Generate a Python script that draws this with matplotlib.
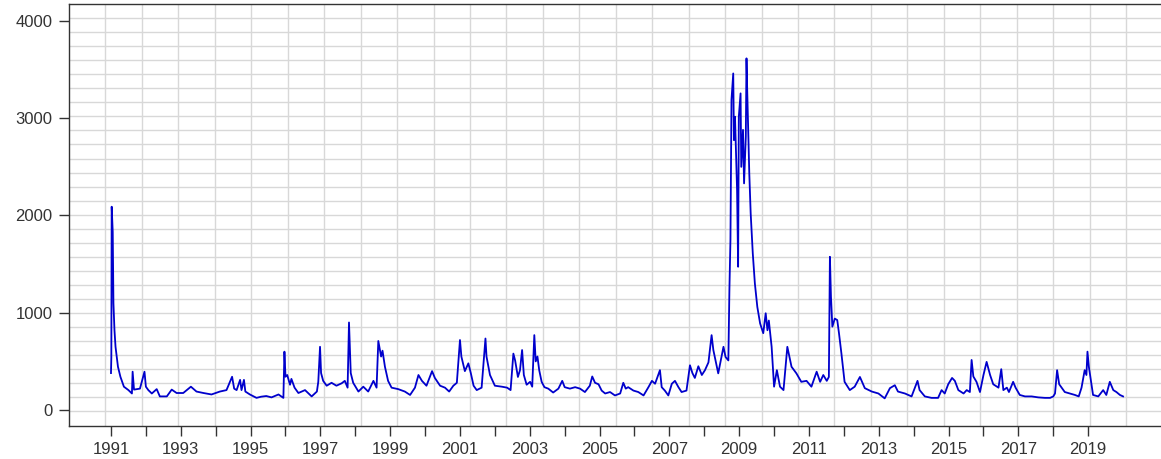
# daily series 1991-2020
# (decimal year, value) -- only the turning points, not every day

import numpy as np
import matplotlib.pyplot as plt

# --- data -------------------------------------------------------------
years = [
    1991.00, 1991.01, 1991.02, 1991.05, 1991.07, 1991.10, 1991.13, 1991.20, 1991.27, 1991.37,
    1991.50, 1991.60, 1991.62, 1991.66, 1991.83, 1991.96, 1992.00, 1992.07, 1992.17, 1992.31,
    1992.40, 1992.60, 1992.74, 1992.88, 1993.07, 1993.29, 1993.45, 1993.65, 1993.88, 1994.12,
    1994.31, 1994.47, 1994.53, 1994.60, 1994.70, 1994.74, 1994.81, 1994.85, 1994.98, 1995.17,
    1995.30, 1995.45, 1995.60, 1995.80, 1995.94, 1995.97, 1996.00, 1996.05, 1996.13, 1996.17,
    1996.26, 1996.37, 1996.56, 1996.75, 1996.90, 1996.94, 1996.99, 1997.02, 1997.08, 1997.18,
    1997.32, 1997.46, 1997.61, 1997.70, 1997.78, 1997.82, 1997.87, 1997.94, 1998.09, 1998.23,
    1998.37, 1998.52, 1998.61, 1998.66, 1998.74, 1998.78, 1998.85, 1998.94, 1999.04, 1999.23,
    1999.42, 1999.57, 1999.71, 1999.81, 1999.91, 2000.04, 2000.20, 2000.28, 2000.43, 2000.57,
    2000.69, 2000.81, 2000.91, 2001.00, 2001.04, 2001.14, 2001.24, 2001.31, 2001.39, 2001.48,
    2001.62, 2001.73, 2001.76, 2001.86, 2002.00, 2002.20, 2002.35, 2002.45, 2002.53, 2002.58,
    2002.66, 2002.72, 2002.78, 2002.83, 2002.91, 2003.01, 2003.07, 2003.13, 2003.17, 2003.22,
    2003.27, 2003.34, 2003.42, 2003.53, 2003.67, 2003.82, 2003.93, 2004.00, 2004.15, 2004.30,
    2004.44, 2004.58, 2004.72, 2004.79, 2004.87, 2004.97, 2005.06, 2005.16, 2005.30, 2005.44,
    2005.59, 2005.68, 2005.75, 2005.82, 2005.97, 2006.11, 2006.26, 2006.40, 2006.50, 2006.59,
    2006.73, 2006.78, 2006.87, 2006.97, 2007.07, 2007.16, 2007.26, 2007.35, 2007.49, 2007.59,
    2007.66, 2007.73, 2007.83, 2007.93, 2008.02, 2008.12, 2008.21, 2008.26, 2008.40, 2008.55,
    2008.61, 2008.69, 2008.72, 2008.75, 2008.78, 2008.83, 2008.85, 2008.88, 2008.94, 2008.97,
    2008.99, 2009.04, 2009.06, 2009.11, 2009.14, 2009.19, 2009.21, 2009.23, 2009.29, 2009.33,
    2009.39, 2009.45, 2009.52, 2009.60, 2009.69, 2009.76, 2009.81, 2009.85, 2009.93, 2010.00,
    2010.08, 2010.17, 2010.27, 2010.38, 2010.46, 2010.50, 2010.64, 2010.78, 2010.93, 2011.07,
    2011.22, 2011.32, 2011.41, 2011.51, 2011.57, 2011.60, 2011.63, 2011.67, 2011.74, 2011.81,
    2011.86, 2011.93, 2012.02, 2012.17, 2012.31, 2012.46, 2012.60, 2012.80, 2012.99, 2013.17,
    2013.32, 2013.46, 2013.55, 2013.75, 2013.94, 2014.11, 2014.17, 2014.32, 2014.51, 2014.70,
    2014.80, 2014.89, 2014.99, 2015.10, 2015.18, 2015.28, 2015.43, 2015.52, 2015.61, 2015.66,
    2015.71, 2015.80, 2015.90, 2016.00, 2016.09, 2016.19, 2016.28, 2016.43, 2016.51, 2016.57,
    2016.67, 2016.73, 2016.85, 2016.92, 2017.04, 2017.19, 2017.38, 2017.57, 2017.76, 2017.91,
    2018.00, 2018.05, 2018.11, 2018.17, 2018.24, 2018.33, 2018.47, 2018.62, 2018.73, 2018.81,
    2018.90, 2018.95, 2018.98, 2019.02, 2019.08, 2019.14, 2019.29, 2019.43, 2019.52, 2019.62,
    2019.72, 2019.81, 2019.91, 2020.00,
]
values = [
    380, 540, 2090, 1830, 1100, 820, 650, 445, 342, 240,
    205, 170, 394, 210, 220, 394, 240, 205, 170, 215,
    140, 140, 210, 175, 175, 240, 190, 175, 160, 190,
    205, 342, 220, 205, 310, 205, 310, 190, 160, 125,
    137, 144, 130, 160, 125, 600, 342, 360, 260, 320,
    230, 175, 205, 140, 190, 290, 650, 380, 300, 250,
    280, 250, 275, 300, 230, 900, 380, 280, 190, 240,
    190, 300, 230, 710, 550, 610, 445, 300, 230, 215,
    190, 155, 230, 360, 300, 250, 400, 330, 250, 230,
    190, 250, 280, 720, 550, 400, 480, 380, 250, 205,
    230, 735, 550, 360, 250, 240, 230, 205, 580, 510,
    340, 410, 617, 360, 260, 290, 240, 770, 500, 550,
    410, 290, 235, 220, 180, 220, 300, 235, 220, 235,
    220, 185, 250, 345, 280, 265, 200, 170, 185, 150,
    170, 280, 220, 235, 200, 185, 150, 235, 300, 270,
    410, 235, 200, 150, 270, 300, 235, 185, 200, 460,
    380, 330, 450, 360, 410, 490, 770, 617, 377, 650,
    545, 510, 1234, 1750, 3190, 3460, 2775, 3015, 2260, 1473,
    3015, 3255, 2500, 2880, 2330, 2810, 3615, 3290, 2430, 2020,
    1610, 1300, 1060, 890, 790, 995, 820, 920, 650, 240,
    410, 240, 205, 650, 515, 445, 377, 290, 300, 240,
    394, 290, 360, 300, 340, 1575, 1165, 857, 940, 925,
    790, 580, 290, 205, 240, 340, 225, 190, 170, 120,
    225, 255, 190, 170, 140, 300, 205, 140, 125, 125,
    205, 170, 265, 330, 300, 205, 170, 205, 185, 515,
    345, 290, 185, 360, 495, 360, 265, 230, 420, 205,
    230, 185, 290, 230, 155, 140, 140, 130, 125, 125,
    140, 170, 410, 265, 230, 185, 170, 155, 140, 230,
    410, 360, 600, 445, 300, 155, 140, 205, 155, 290,
    205, 185, 155, 140,
]

ytick_vals = [0, 1000, 2000, 3000, 4000]
xtick_years = list(range(1991, 2020))
xtick_labels = [str(y) if y % 2 == 1 else "" for y in xtick_years]

# --- plot -------------------------------------------------------------
plt.rcParams['font.family'] = ['Liberation Sans', 'DejaVu Sans']

W, H = 1161, 459
fig = plt.figure(figsize=(W / 100, H / 100), dpi=100)
# axes box in pixels: left 69, right ~1162 (runs off the edge), top 4, bottom 425.5
ax = fig.add_axes([69 / W, (H - 425.5) / H, (1162.5 - 69) / W, (425.5 - 4) / H])

x0, x1 = 1989.797, 2021.13
y0, y1 = -159, 4174
ax.set_xlim(x0, x1)
ax.set_ylim(y0, y1)

# grid is 30 x 30 equal cells of the box, not tied to the ticks (R grid() style)
for gx in np.linspace(x0, x1, 31)[1:-1]:
    ax.axvline(gx, color='#d8d8d8', lw=1.0, zorder=0)
for gy in np.linspace(y0, y1, 31)[1:-1]:
    ax.axhline(gy, color='#d8d8d8', lw=1.0, zorder=0)

ax.plot(years, values, color='#0000cc', lw=1.3, zorder=3)

ax.set_yticks(ytick_vals)
ax.set_yticklabels([str(v) for v in ytick_vals])
ax.set_xticks(xtick_years)
ax.set_xticklabels(xtick_labels)

ax.tick_params(axis='both', direction='out', length=7, width=1, color='#333333',
               labelcolor='#333333', labelsize=12)
ax.tick_params(axis='y', pad=5)
ax.tick_params(axis='x', pad=5)

for side in ['left', 'bottom', 'top']:
    ax.spines[side].set_color('#333333')
    ax.spines[side].set_linewidth(1.0)
ax.spines['right'].set_visible(False)

fig.savefig("out.png", dpi=100)
